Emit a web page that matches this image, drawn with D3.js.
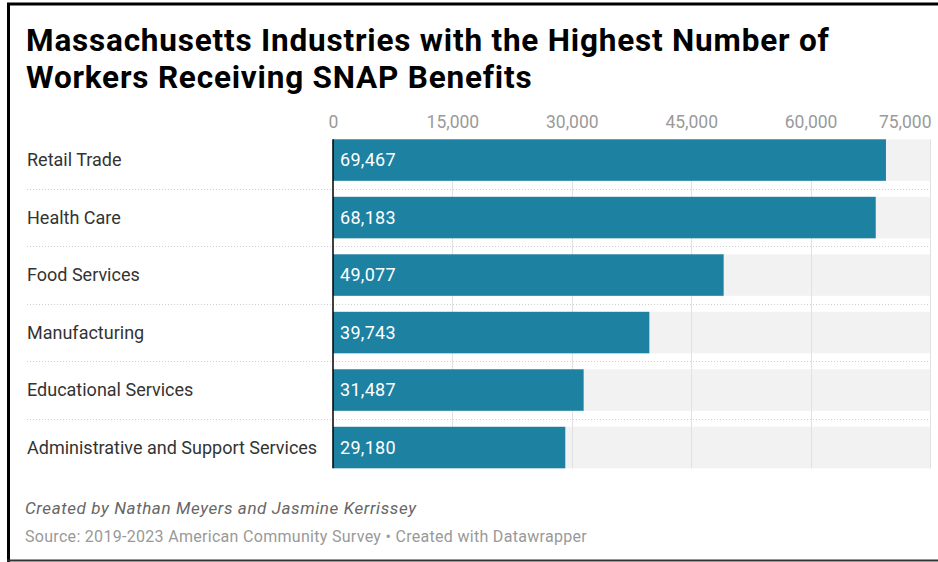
<!DOCTYPE html>
<html>
<head>
<meta charset="utf-8">
<script src="https://cdn.jsdelivr.net/npm/d3@7"></script>
<style>
  html, body { margin: 0; padding: 0; background: #fff; }
  svg { display: block; font-family: Roboto, "Noto Sans", sans-serif; }
</style>
</head>
<body>
<svg id="chart" width="938" height="562"></svg>
<script>
// Industries and the number of workers receiving SNAP benefits
const industries = [
  "Retail Trade",
  "Health Care",
  "Food Services",
  "Manufacturing",
  "Educational Services",
  "Administrative and Support Services"
];
const workers = [69467, 68183, 49077, 39743, 31487, 29180];
const tickValues = [0, 15000, 30000, 45000, 60000, 75000];

const titleLines = [
  "Massachusetts Industries with the Highest Number of",
  "Workers Receiving SNAP Benefits"
];
const byline = "Created by Nathan Meyers and Jasmine Kerrissey";
const source = "Source: 2019-2023 American Community Survey \u2022 Created with Datawrapper";

const rows = industries.map((name, i) => ({ name, value: workers[i] }));

const svg = d3.select("#chart");

// Frame lines
svg.append("line").attr("x1", 7).attr("x2", 938).attr("y1", 4).attr("y2", 4)
  .attr("stroke", "#000").attr("stroke-width", 3);
svg.append("line").attr("x1", 8.5).attr("x2", 8.5).attr("y1", 3).attr("y2", 562)
  .attr("stroke", "#000").attr("stroke-width", 3);
svg.append("line").attr("x1", 7).attr("x2", 938).attr("y1", 560.5).attr("y2", 560.5)
  .attr("stroke", "#333").attr("stroke-width", 2);

// Title
svg.append("g").selectAll("text").data(titleLines).join("text")
  .attr("x", 26)
  .attr("y", (d, i) => 51 + i * 37)
  .attr("font-size", 31.5)
  .attr("font-weight", 700)
  .attr("letter-spacing", 0.8)
  .attr("fill", "#000")
  .text(d => d);

const x = d3.scaleLinear().domain([0, 75000]).range([333, 930]);
const y = d3.scaleBand().domain(industries).range([139.3, 468.3])
  .paddingInner(0.278).paddingOuter(0);

// Light grey track behind every bar
svg.append("g").selectAll("rect").data(rows).join("rect")
  .attr("x", x(0))
  .attr("y", d => y(d.name))
  .attr("width", x(75000) - x(0))
  .attr("height", y.bandwidth())
  .attr("fill", "#f2f2f2");

// Vertical gridlines
const yTop = y(industries[0]);
const yBottom = y(industries[industries.length - 1]) + y.bandwidth();
svg.append("g").selectAll("line").data(tickValues.slice(1)).join("line")
  .attr("x1", d => Math.round(x(d)) + 0.5)
  .attr("x2", d => Math.round(x(d)) + 0.5)
  .attr("y1", yTop)
  .attr("y2", yBottom)
  .attr("stroke", "#e1e1e1")
  .attr("stroke-width", 1);

// Dotted row separators
const seps = industries.slice(0, -1).map((d, i) => {
  const next = industries[i + 1];
  return (y(d) + y.bandwidth() + y(next)) / 2;
});
svg.append("g").selectAll("line").data(seps).join("line")
  .attr("x1", 27).attr("x2", 930)
  .attr("y1", d => Math.round(d) + 0.5)
  .attr("y2", d => Math.round(d) + 0.5)
  .attr("stroke", "#cfcfcf")
  .attr("stroke-width", 1)
  .attr("stroke-dasharray", "1,2");

// Bars
svg.append("g").selectAll("rect").data(rows).join("rect")
  .attr("x", x(0))
  .attr("y", d => y(d.name))
  .attr("width", d => x(d.value) - x(0))
  .attr("height", y.bandwidth())
  .attr("fill", "#1d81a2");

// Baseline at zero
svg.append("line")
  .attr("x1", x(0)).attr("x2", x(0))
  .attr("y1", yTop).attr("y2", yBottom)
  .attr("stroke", "#000").attr("stroke-width", 1.5);

// Top axis labels
const fmt = d3.format(",");
const axis = d3.axisTop(x).tickValues(tickValues).tickFormat(fmt).tickSize(0).tickPadding(0);
const axisG = svg.append("g").attr("transform", "translate(0,128)").call(axis);
axisG.select(".domain").remove();
axisG.selectAll("text")
  .attr("font-family", "Roboto, sans-serif")
  .attr("font-size", 17.5)
  .attr("fill", "#9a9a9a")
  .attr("text-anchor", d => d === 75000 ? "end" : "middle")
  .attr("dx", d => d === 75000 ? 1 : 0);

// Category labels
svg.append("g").selectAll("text").data(rows).join("text")
  .attr("x", 27)
  .attr("y", d => y(d.name) + y.bandwidth() / 2)
  .attr("dy", "0.35em")
  .attr("font-size", 18)
  .attr("fill", "#333")
  .text(d => d.name);

// Value labels inside bars
svg.append("g").selectAll("text").data(rows).join("text")
  .attr("x", x(0) + 7)
  .attr("y", d => y(d.name) + y.bandwidth() / 2)
  .attr("dy", "0.35em")
  .attr("font-size", 18)
  .attr("letter-spacing", 0.3)
  .attr("fill", "#fff")
  .text(d => fmt(d.value));

// Footer
svg.append("text")
  .attr("x", 25).attr("y", 514)
  .attr("font-size", 17)
  .attr("font-style", "italic")
  .attr("letter-spacing", 0.6)
  .attr("fill", "#666")
  .text(byline);
svg.append("text")
  .attr("x", 25).attr("y", 542)
  .attr("font-size", 16)
  .attr("letter-spacing", 0.3)
  .attr("fill", "#999")
  .text(source);
</script>
</body>
</html>
